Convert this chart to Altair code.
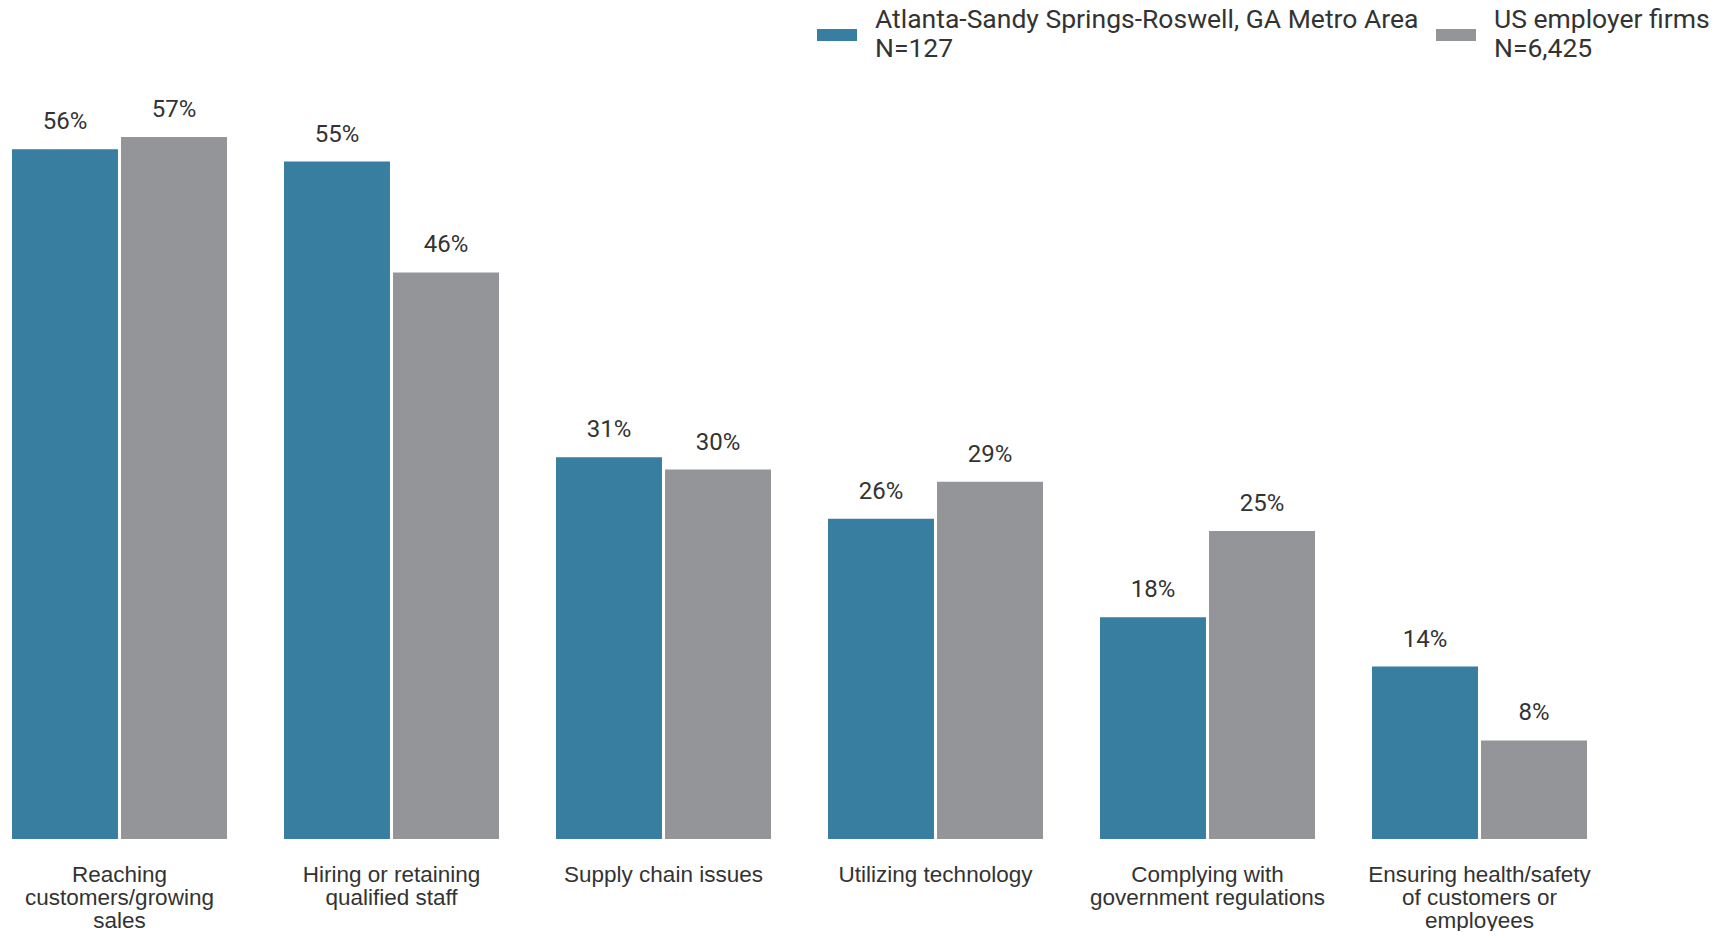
import altair as alt
import pandas as pd

categories = [
    "Reaching|customers/growing|sales",
    "Hiring or retaining|qualified staff",
    "Supply chain issues",
    "Utilizing technology",
    "Complying with|government regulations",
    "Ensuring health/safety|of customers or|employees",
]
series = [
    "Atlanta-Sandy Springs-Roswell, GA Metro Area|N=127",
    "US employer firms|N=6,425",
]
atlanta = [56, 55, 31, 26, 18, 14]
us_firms = [57, 46, 30, 29, 25, 8]
colors = ["#387ea0", "#949599"]

rows = []
for c, a, u in zip(categories, atlanta, us_firms):
    rows.append({"category": c, "series": series[0], "value": a})
    rows.append({"category": c, "series": series[1], "value": u})
df = pd.DataFrame(rows)
df["label"] = df["value"].astype(str) + "%"

x = alt.X(
    "category:N",
    sort=categories,
    scale=alt.Scale(paddingInner=0.2096, paddingOuter=0),
    axis=alt.Axis(
        title=None,
        labelAngle=0,
        labelExpr="split(datum.label, '|')",
        labelFont="Liberation Sans",
        labelFontSize=22.5,
        labelColor="#333333",
        labelLineHeight=23,
        labelPadding=24,
        labelLimit=400,
        domain=False,
        ticks=False,
        grid=False,
    ),
)
xoff = alt.XOffset(
    "series:N", sort=series, scale=alt.Scale(paddingInner=0.028, paddingOuter=0)
)
y = alt.Y("value:Q", scale=alt.Scale(domain=[0, 60], nice=False), axis=None)

bars = alt.Chart(df).mark_bar().encode(
    x=x,
    xOffset=xoff,
    y=y,
    color=alt.Color(
        "series:N",
        sort=series,
        scale=alt.Scale(domain=series, range=colors),
        legend=alt.Legend(
            title=None,
            orient="none",
            legendX=805,
            legendY=-85,
            direction="horizontal",
            columns=2,
            symbolType="M-1,-0.3H1V0.3H-1Z",
            symbolSize=1600,
            symbolStrokeWidth=0,
            symbolOpacity=1,
            labelFont="Roboto",
            labelFontSize=26.5,
            labelColor="#333333",
            labelBaseline="line-bottom",
            labelLimit=700,
            labelOffset=18,
            columnPadding=17,
            labelExpr="split(datum.label, '|')",
        ),
    ),
)

text = alt.Chart(df).mark_text(
    font="Roboto", fontSize=24, color="#333333", baseline="alphabetic", dy=-20
).encode(x=x, xOffset=xoff, y=y, text="label:N")

chart = (
    alt.layer(bars, text)
    .properties(
        width=1575,
        height=739,
        padding={"left": 4, "top": 92, "right": 129, "bottom": 92},
        autosize=alt.AutoSizeParams(type="none"),
    )
    .configure_view(stroke=None)
)

chart.save("out.html", embed_options={"renderer": "svg", "actions": False})
